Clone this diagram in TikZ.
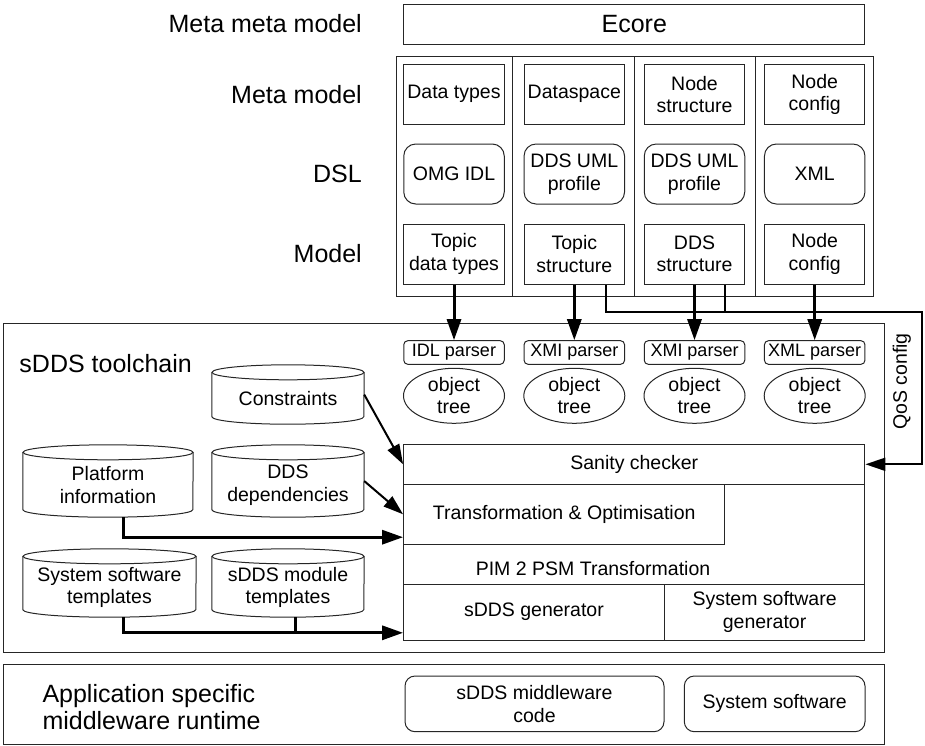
\documentclass[tikz,border=0pt]{standalone}
\usepackage{fontspec}
\setmainfont{Liberation Sans}
\usetikzlibrary{arrows.meta,shapes.geometric,calc}
\tikzset{
  thinl/.style={draw=black!85, line width=1pt},
  txt/.style={inner sep=0pt, align=center, font=\fontsize{19.5pt}{22.5pt}\selectfont},
  cell/.style={txt, thinl, rectangle, minimum width=100.5pt, minimum height=60pt},
  rcell/.style={cell, rounded corners=12pt},
  parser/.style={thinl, rectangle, rounded corners=4pt, minimum width=100.5pt, minimum height=23.6pt, inner sep=0pt, font=\fontsize{18pt}{20pt}\selectfont},
  otree/.style={txt, thinl, ellipse, minimum width=101pt, minimum height=55pt, font=\fontsize{19.5pt}{22pt}\selectfont},
  big/.style={inner sep=0pt, font=\fontsize{25pt}{26.7pt}\selectfont},
  cylbox/.style={rectangle, inner sep=0pt},
  arr/.style={line width=3pt, -{Triangle[length=21pt,width=14pt]}},
  arrthin/.style={line width=2pt, -{Triangle[length=20pt,width=13pt]}},
  thickline/.style={line width=3pt},
}
\newcommand\drawcyl[2]{%
  \draw[thinl] ($(#1.north west)+(0,-7.5)$) -- ($(#1.south west)+(0,7.5)$)
     arc[start angle=180,end angle=360,x radius=#2pt,y radius=7.5pt]
     -- ($(#1.north east)+(0,-7.5)$);
  \draw[thinl] ($(#1.north)+(0,-7.5)$) ellipse[x radius=#2pt, y radius=7.5pt];}
\begin{document}
\begin{tikzpicture}[x=1pt,y=1pt]
\useasboundingbox (0,0) rectangle (925,-745);
% level labels
\node[big, anchor=east] (lmm) at (362,-24) {Meta meta model};
\node[big, anchor=east] (lm) at (362,-94.3) {Meta model};
\node[big, anchor=east] (ldsl) at (362,-174) {DSL};
\node[big, anchor=east] (lmod) at (362,-254) {Model};
% Ecore
\node[thinl, big, rectangle, minimum width=461.3pt, minimum height=40pt] (ecore) at (634.25,-24) {Ecore};
% meta model container
\draw[thinl] (396.3,-56) rectangle (873,-296.7);
\foreach \xx in {512.4,634.5,755.4} \draw[thinl] (\xx,-56) -- (\xx,-296.7);
% meta model row
\node[cell] (dt)  at (454,-94.3)   {Data types};
\node[cell] (dsp) at (574.3,-94.3) {Dataspace};
\node[cell] (ns)  at (694.5,-94.3) {Node\\structure};
\node[cell] (nc)  at (814.7,-94.3) {Node\\config};
% DSL row
\node[rcell] (idl)  at (454,-174)   {OMG IDL};
\node[rcell] (uml1) at (574.3,-174) {DDS UML\\profile};
\node[rcell] (uml2) at (694.5,-174) {DDS UML\\profile};
\node[rcell] (xml)  at (814.7,-174) {XML};
% model row
\node[cell] (tdt) at (454,-254)   {Topic\\data types};
\node[cell] (ts)  at (574.3,-254) {Topic\\structure};
\node[cell] (dds) at (694.5,-254) {DDS\\structure};
\node[cell] (ncm) at (814.7,-254) {Node\\config};
% toolchain container
\draw[thinl] (3.3,-323.3) rectangle (884.3,-652.3);
\node[big, anchor=west] (tool) at (19.3,-363.3) {sDDS toolchain};
% parsers
\node[parser] (p1) at (454,-352.5)   {IDL parser};
\node[parser] (p2) at (574.3,-352.5) {XMI parser};
\node[parser] (p3) at (694.5,-352.5) {XMI parser};
\node[parser] (p4) at (814.7,-352.5) {XML parser};
\node[otree] (t1) at (454,-395.8)   {object\\tree};
\node[otree] (t2) at (574.3,-395.8) {object\\tree};
\node[otree] (t3) at (694.5,-395.8) {object\\tree};
\node[otree] (t4) at (814.7,-395.8) {object\\tree};
% model -> parser arrows
\draw[arr] (tdt.south) -- (p1.north);
\draw[arr] (ts.south) -- (p2.north);
\draw[arr] (dds.south) -- (p3.north);
\draw[arr] (ncm.south) -- (p4.north);
% transformation block
\draw[thinl] (403.6,-444.3) rectangle (864.9,-640);
\node[txt, thinl, rectangle, minimum width=461.3pt, minimum height=40pt] (sanity) at (634.25,-464.3) {Sanity checker};
\node[txt, thinl, rectangle, minimum width=321.2pt, minimum height=60pt] (trans) at (564.2,-514.3) {Transformation \& Optimisation};
\node[txt] (pim) at (593,-568.3) {PIM 2 PSM Transformation};
\node[txt, thinl, rectangle, minimum width=260.7pt, minimum height=55.7pt] (sddsgen) at (533.95,-612.15) {sDDS generator};
\node[txt, thinl, rectangle, minimum width=200.6pt, minimum height=55.7pt] (sysgen) at (764.6,-612.15) {System software\\generator};
% QoS config
\coordinate (qa) at (922,-312.3);
\draw[arrthin] ($(ts.south)+(31.3,0)$) |- (qa) |- (sanity.east);
\draw[line width=2pt] ($(dds.south)+(30.3,0)$) -- ++(0,-28.3);
\node[txt, rotate=90] (qos) at (901.7,-381.5) {QoS config};
% cylinders
\node[cylbox, minimum width=152pt, minimum height=59pt] (cons) at (288,-394.5) {};
\drawcyl{cons}{76}
\node[txt] (consT) at (288,-399) {Constraints};
\node[cylbox, minimum width=170pt, minimum height=72pt] (plat) at (108,-481) {};
\drawcyl{plat}{85}
\node[txt] (platT) at (108,-485) {Platform\\information};
\node[cylbox, minimum width=152pt, minimum height=72pt] (ddsdep) at (288,-481) {};
\drawcyl{ddsdep}{76}
\node[txt] (ddsdepT) at (288,-485) {DDS\\dependencies};
\node[cylbox, minimum width=173pt, minimum height=68pt] (systpl) at (109.5,-583) {};
\drawcyl{systpl}{86.5}
\node[txt] (systplT) at (109.5,-587.5) {System software\\templates};
\node[cylbox, minimum width=152pt, minimum height=68pt] (modtpl) at (288,-583) {};
\drawcyl{modtpl}{76}
\node[txt] (modtplT) at (288,-587.5) {sDDS module\\templates};
% inputs to block
\draw[arrthin] (cons.east) -- (sanity.west);
\draw[arrthin] (ddsdep.east) -- (trans.west);
\draw[arr] ($(plat.south)+(15.7,0)$) |- ($(trans.south west)+(0,7.6)$);
\draw[arr] ($(systpl.south)+(14.2,0)$) |- ($(sddsgen.south west)+(0,7.7)$);
\draw[thickline] ($(modtpl.south)+(7.7,0)$) -- ++(0,-15.3);
% runtime container
\draw[thinl] (3.3,-664.3) rectangle (884.3,-744.3);
\node[big, anchor=west, align=left] (app) at (42.3,-706.7) {Application specific\\middleware runtime};
\node[rcell, rounded corners=10pt, minimum width=259pt, minimum height=55.7pt, font=\fontsize{19.5pt}{23.5pt}\selectfont] (mwcode) at (534.5,-703.85) {sDDS middleware\\code};
\node[rcell, rounded corners=10pt, minimum width=180.7pt, minimum height=55.7pt] (syssw) at (774.65,-703.85) {System software};
\end{tikzpicture}
\end{document}
